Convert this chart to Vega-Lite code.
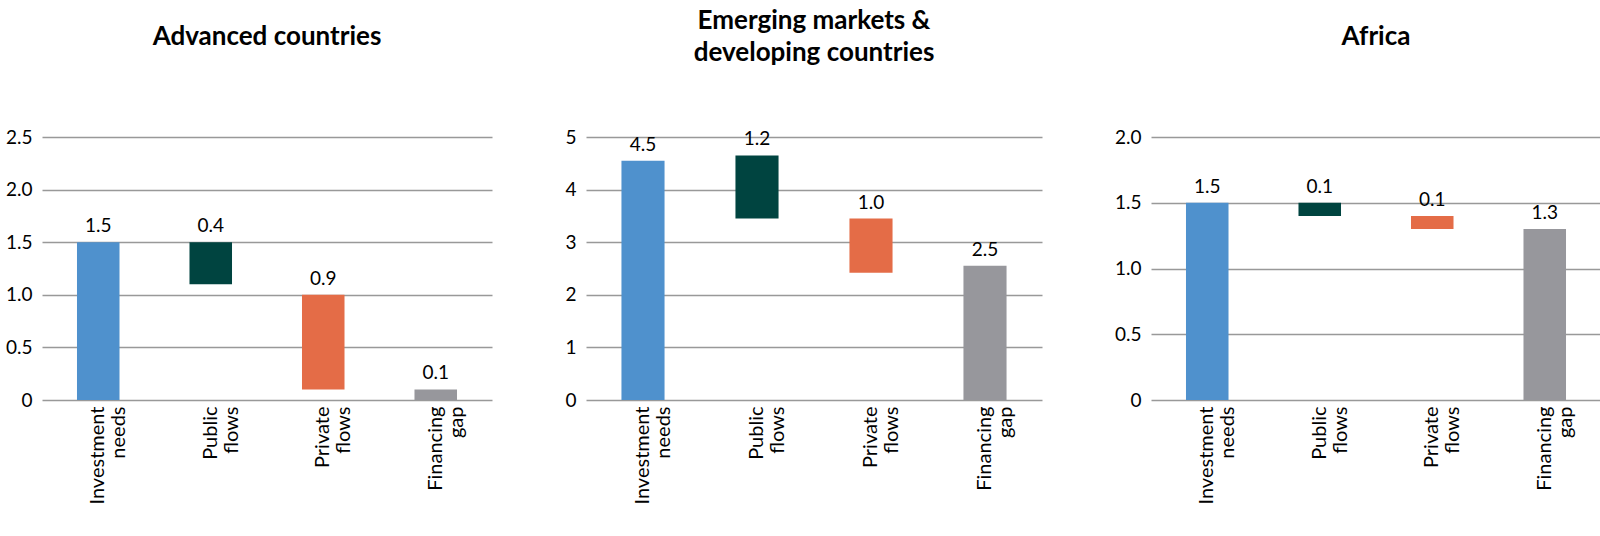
{
  "$schema": "https://vega.github.io/schema/vega-lite/v6.json",
  "padding": {"left": 5, "top": 8, "right": 20, "bottom": 5},
  "spacing": 72,
  "datasets": {
    "flows": [
      {"region": "adv", "cat": "Investment needs", "lo": 0, "hi": 1.5, "lab": "1.5"},
      {"region": "adv", "cat": "Public flows", "lo": 1.1, "hi": 1.5, "lab": "0.4"},
      {"region": "adv", "cat": "Private flows", "lo": 0.1, "hi": 1.0, "lab": "0.9"},
      {"region": "adv", "cat": "Financing gap", "lo": 0, "hi": 0.1, "lab": "0.1"},
      {"region": "eme", "cat": "Investment needs", "lo": 0, "hi": 4.55, "lab": "4.5"},
      {"region": "eme", "cat": "Public flows", "lo": 3.45, "hi": 4.65, "lab": "1.2"},
      {"region": "eme", "cat": "Private flows", "lo": 2.42, "hi": 3.45, "lab": "1.0"},
      {"region": "eme", "cat": "Financing gap", "lo": 0, "hi": 2.55, "lab": "2.5"},
      {"region": "afr", "cat": "Investment needs", "lo": 0, "hi": 1.5, "lab": "1.5"},
      {"region": "afr", "cat": "Public flows", "lo": 1.4, "hi": 1.5, "lab": "0.1"},
      {"region": "afr", "cat": "Private flows", "lo": 1.3, "hi": 1.4, "lab": "0.1"},
      {"region": "afr", "cat": "Financing gap", "lo": 0, "hi": 1.3, "lab": "1.3"}
    ]
  },
  "hconcat": [
    {
      "title": {"text": "Advanced countries", "offset": 78},
      "width": 450, "height": 263,
      "data": {"name": "flows"},
      "transform": [{"filter": "datum.region == 'adv'"}],
      "encoding": {
        "x": {"field": "cat", "type": "nominal", "sort": null, "title": null},
        "y": {"field": "hi", "type": "quantitative", "title": null,
              "scale": {"domain": [0, 2.5]},
              "axis": {"values": [0, 0.5, 1, 1.5, 2, 2.5], "labelExpr": "datum.value == 0 ? '0' : format(datum.value, '.1f')"}}
      },
      "layer": [
        {"mark": "bar", "encoding": {"y": {"field": "lo", "type": "quantitative"}, "y2": {"field": "hi"}, "color": {"field": "cat", "type": "nominal", "sort": null, "legend": null}}},
        {"mark": {"type": "text", "dy": -16, "fontSize": 19}, "encoding": {"text": {"field": "lab"}}}
      ]
    },
    {
      "title": {"text": ["Emerging markets &", "developing countries"], "offset": 62},
      "width": 456, "height": 263,
      "data": {"name": "flows"},
      "transform": [{"filter": "datum.region == 'eme'"}],
      "encoding": {
        "x": {"field": "cat", "type": "nominal", "sort": null, "title": null},
        "y": {"field": "hi", "type": "quantitative", "title": null,
              "scale": {"domain": [0, 5]},
              "axis": {"values": [0, 1, 2, 3, 4, 5], "format": "d"}}
      },
      "layer": [
        {"mark": "bar", "encoding": {"y": {"field": "lo", "type": "quantitative"}, "y2": {"field": "hi"}, "color": {"field": "cat", "type": "nominal", "sort": null, "legend": null}}},
        {"mark": {"type": "text", "dy": -16, "fontSize": 19}, "encoding": {"text": {"field": "lab"}}}
      ]
    },
    {
      "title": {"text": "Africa", "offset": 78},
      "width": 450, "height": 263,
      "data": {"name": "flows"},
      "transform": [{"filter": "datum.region == 'afr'"}],
      "encoding": {
        "x": {"field": "cat", "type": "nominal", "sort": null, "title": null},
        "y": {"field": "hi", "type": "quantitative", "title": null,
              "scale": {"domain": [0, 2]},
              "axis": {"values": [0, 0.5, 1, 1.5, 2], "labelExpr": "datum.value == 0 ? '0' : format(datum.value, '.1f')"}}
      },
      "layer": [
        {"mark": "bar", "encoding": {"y": {"field": "lo", "type": "quantitative"}, "y2": {"field": "hi"}, "color": {"field": "cat", "type": "nominal", "sort": null, "legend": null}}},
        {"mark": {"type": "text", "dy": -16, "fontSize": 19}, "encoding": {"text": {"field": "lab"}}}
      ]
    }
  ],
  "config": {
    "font": "Lato",
    "view": {"stroke": null},
    "title": {"fontSize": 26, "fontWeight": "bold", "color": "black", "anchor": "middle", "lineHeight": 32},
    "bar": {"width": {"band": 0.42}},
    "range": {"category": ["#4F91CD", "#004440", "#E46C47", "#97979C"]},
    "axisX": {"labelAngle": -90, "labelExpr": "split(datum.label, ' ')", "labelFontSize": 20, "labelColor": "black",
              "labelAlign": "right", "labelBaseline": "middle", "labelLineHeight": 21, "labelPadding": 6,
              "domain": false, "ticks": false, "grid": false},
    "axisY": {"labelFontSize": 19, "labelColor": "black", "domain": false, "ticks": false, "labelPadding": 10,
              "grid": true, "gridColor": "#999", "gridWidth": 1.5}
  }
}
